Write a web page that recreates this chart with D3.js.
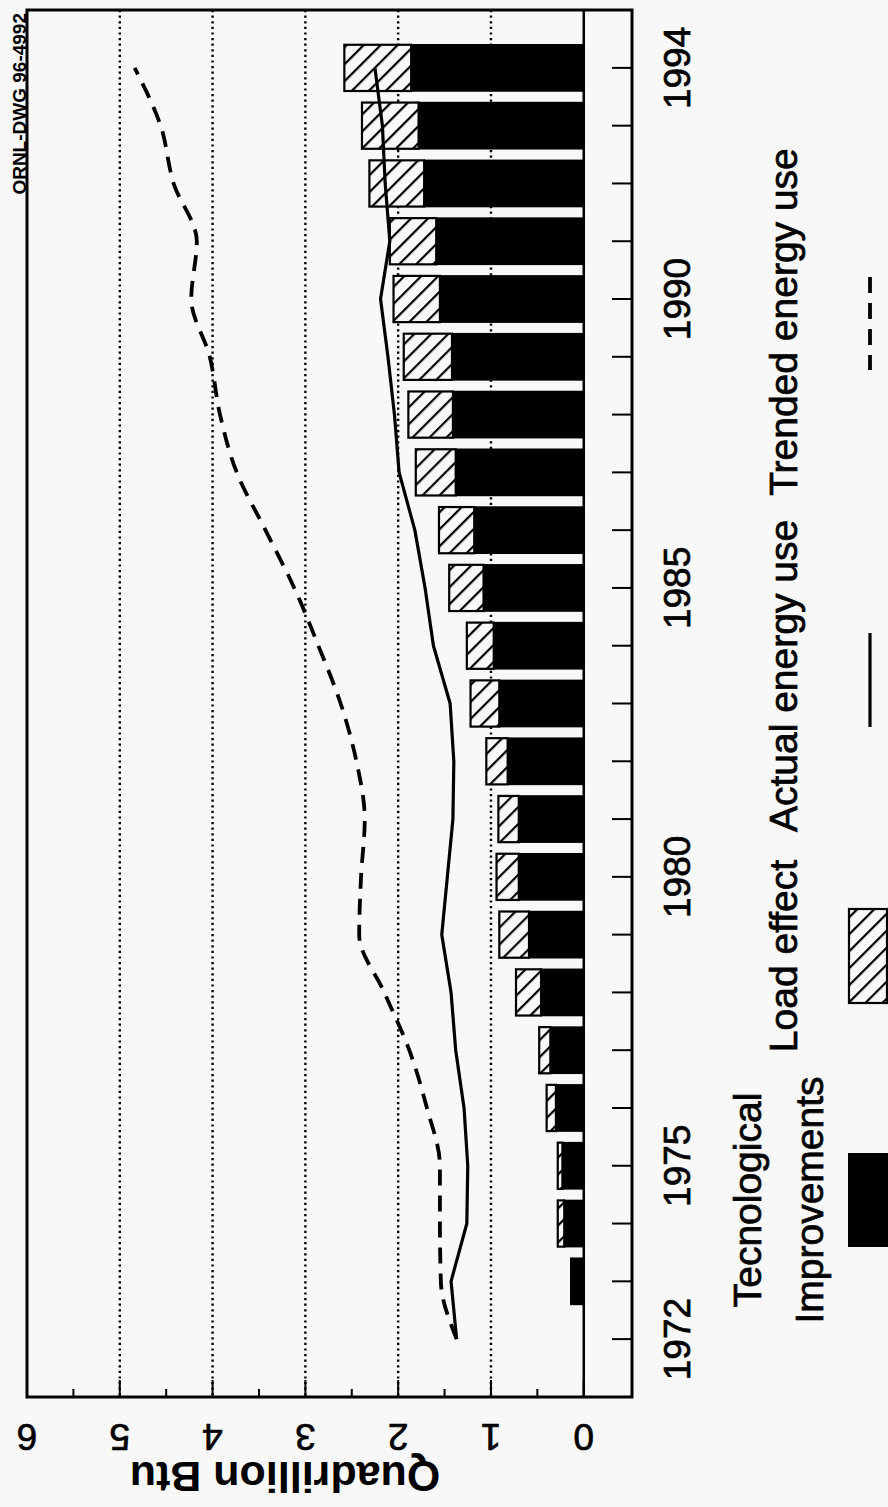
<!DOCTYPE html>
<html><head><meta charset="utf-8">
<script src="https://cdn.jsdelivr.net/npm/d3@7"></script>
<style>html,body{margin:0;padding:0;background:#f8f8f8;} svg{display:block;font-family:"Liberation Sans",Arial,sans-serif;}</style>
</head><body><svg id="c" width="888" height="1507"></svg>
<script>
const years = [1972,1973,1974,1975,1976,1977,1978,1979,1980,1981,1982,1983,1984,1985,1986,1987,1988,1989,1990,1991,1992,1993,1994];
const techImprovements = [0,0.14,0.21,0.23,0.30,0.36,0.46,0.59,0.70,0.70,0.82,0.91,0.97,1.08,1.18,1.38,1.41,1.42,1.55,1.59,1.72,1.78,1.86];
const loadEffect = [0,0,0.07,0.05,0.10,0.12,0.27,0.32,0.24,0.22,0.23,0.31,0.29,0.37,0.38,0.43,0.48,0.52,0.50,0.50,0.59,0.61,0.72];
const actualUse = [1.37,1.43,1.26,1.25,1.29,1.38,1.43,1.53,1.47,1.41,1.40,1.44,1.62,1.71,1.82,1.99,2.04,2.11,2.19,2.09,2.14,2.17,2.25];
const trendedUse = [1.37,1.54,1.55,1.55,1.69,1.88,2.15,2.42,2.40,2.36,2.45,2.62,2.86,3.12,3.43,3.74,3.92,4.03,4.23,4.17,4.42,4.56,4.84];
const valueTicks = [0,1,2,3,4,5,6];
const minorTicks = [0.5,1.5,2.5,3.5,4.5,5.5];
const gridValues = [1,2,3,4,5];
const yearLabels = [1972,1975,1980,1985,1990,1994];
const legendLabels = ["Tecnological","Improvements","Load effect","Actual energy use","Trended energy use"];
const axisTitle = "Quadrillion Btu";
const drawingId = "ORNL-DWG 96-4992";

const svg = d3.select("#c");
const BG = "#f8f8f8";
const pTop = 10, pBottom = 1397, pLeft = 27, pRight = 632;

const x = d3.scaleLinear().domain([6, -0.52]).range([pLeft, pRight]);
const y = d3.scaleBand().domain(years).range([1368, 39]).paddingInner(0.2).paddingOuter(0.1);
const yc = d => y(d) + y.bandwidth() / 2;

const defs = svg.append("defs");
const pat = defs.append("pattern").attr("id", "hatch").attr("patternUnits", "userSpaceOnUse")
  .attr("width", 12).attr("height", 12).attr("patternTransform", "rotate(45)");
pat.append("rect").attr("width", 12).attr("height", 12).attr("fill", BG);
pat.append("line").attr("x1", 1).attr("y1", 0).attr("x2", 1).attr("y2", 12).attr("stroke", "#000").attr("stroke-width", 2.4);

svg.append("rect").attr("width", 888).attr("height", 1507).attr("fill", BG);

// gridlines
svg.append("g").selectAll("line").data(gridValues).join("line")
  .attr("x1", d => x(d)).attr("x2", d => x(d)).attr("y1", pTop).attr("y2", pBottom)
  .attr("stroke", "#000").attr("stroke-width", 2.4).attr("stroke-dasharray", "2.2,3.4");

// bars
const data = years.map((yr, i) => ({yr, t: techImprovements[i], l: loadEffect[i]}));
svg.append("g").selectAll("rect").data(data.filter(d => d.t > 0)).join("rect")
  .attr("x", d => x(d.t)).attr("width", d => x(0) - x(d.t))
  .attr("y", d => y(d.yr)).attr("height", y.bandwidth())
  .attr("fill", "#000").attr("stroke", "#000").attr("stroke-width", 1.5);
svg.append("g").selectAll("rect").data(data.filter(d => d.l > 0)).join("rect")
  .attr("x", d => x(d.t + d.l)).attr("width", d => x(d.t) - x(d.t + d.l))
  .attr("y", d => y(d.yr)).attr("height", y.bandwidth())
  .attr("fill", "url(#hatch)").attr("stroke", "#000").attr("stroke-width", 2.2);

// zero line
svg.append("line").attr("x1", x(0)).attr("x2", x(0)).attr("y1", pTop).attr("y2", pBottom)
  .attr("stroke", "#000").attr("stroke-width", 2.5);

// lines
const lineGen = d3.line().x(d => x(d.v)).y(d => yc(d.yr));
svg.append("path").datum(years.map((yr, i) => ({yr, v: actualUse[i]})))
  .attr("d", lineGen).attr("fill", "none").attr("stroke", "#000").attr("stroke-width", 3.2).attr("stroke-linejoin", "round");
svg.append("path").datum(years.map((yr, i) => ({yr, v: trendedUse[i]})))
  .attr("d", lineGen.curve(d3.curveMonotoneY)).attr("fill", "none").attr("stroke", "#000")
  .attr("stroke-width", 3.8).attr("stroke-dasharray", "16,10");

// frame
svg.append("rect").attr("x", pLeft).attr("y", pTop).attr("width", pRight - pLeft).attr("height", pBottom - pTop)
  .attr("fill", "none").attr("stroke", "#000").attr("stroke-width", 3);

// bottom ticks
svg.append("g").selectAll("line").data(valueTicks).join("line")
  .attr("x1", d => x(d)).attr("x2", d => x(d)).attr("y1", pBottom).attr("y2", pBottom - 17)
  .attr("stroke", "#000").attr("stroke-width", 2);
svg.append("g").selectAll("line").data(minorTicks).join("line")
  .attr("x1", d => x(d)).attr("x2", d => x(d)).attr("y1", pBottom).attr("y2", pBottom - 8)
  .attr("stroke", "#000").attr("stroke-width", 2);
// right ticks
svg.append("g").selectAll("line").data(years).join("line")
  .attr("x1", pRight).attr("x2", pRight - 20).attr("y1", d => yc(d)).attr("y2", d => yc(d))
  .attr("stroke", "#000").attr("stroke-width", 2);

const heavy = sel => sel.attr("fill", "#000").attr("stroke", "#000").attr("stroke-width", 0.7);

// year labels
svg.append("g").selectAll("text").data(yearLabels).join("text")
  .attr("transform", d => `translate(690,${yc(d)}) rotate(-90)`)
  .attr("text-anchor", "middle").attr("font-size", 37).call(heavy).text(d => d);

// value labels
svg.append("g").selectAll("text").data(valueTicks).join("text")
  .attr("transform", d => `translate(${x(d)},1424) rotate(180)`)
  .attr("text-anchor", "middle").attr("font-size", 37).call(heavy).text(d => d);

svg.append("text").attr("transform", "translate(285,1462) rotate(180)")
  .attr("text-anchor", "middle").attr("font-size", 43).attr("font-weight", "bold").text(axisTitle);

svg.append("text").attr("transform", `translate(${pLeft - 1},13) rotate(-90)`)
  .attr("text-anchor", "end").attr("font-size", 19).attr("font-weight", "bold").text(drawingId);

// legend
const legendPos = [[761,1200,39],[823,1200,39],[797,956,39],[797,676,39],[797,322,39]];
svg.append("g").selectAll("text").data(legendLabels).join("text")
  .attr("transform", (d, i) => `translate(${legendPos[i][0]},${legendPos[i][1]}) rotate(-90)`)
  .attr("text-anchor", "middle").attr("font-size", (d, i) => legendPos[i][2]).call(heavy).text(d => d);
svg.append("rect").attr("x", 848).attr("y", 1153).attr("width", 45).attr("height", 94).attr("fill", "#000");
svg.append("rect").attr("x", 849).attr("y", 909).attr("width", 38).attr("height", 94)
  .attr("fill", "url(#hatch)").attr("stroke", "#000").attr("stroke-width", 2.2);
svg.append("line").attr("x1", 870).attr("x2", 870).attr("y1", 633).attr("y2", 727).attr("stroke", "#000").attr("stroke-width", 3.2);
svg.append("line").attr("x1", 870).attr("x2", 870).attr("y1", 277).attr("y2", 370).attr("stroke", "#000")
  .attr("stroke-width", 3.8).attr("stroke-dasharray", "16,10");
</script></body></html>
